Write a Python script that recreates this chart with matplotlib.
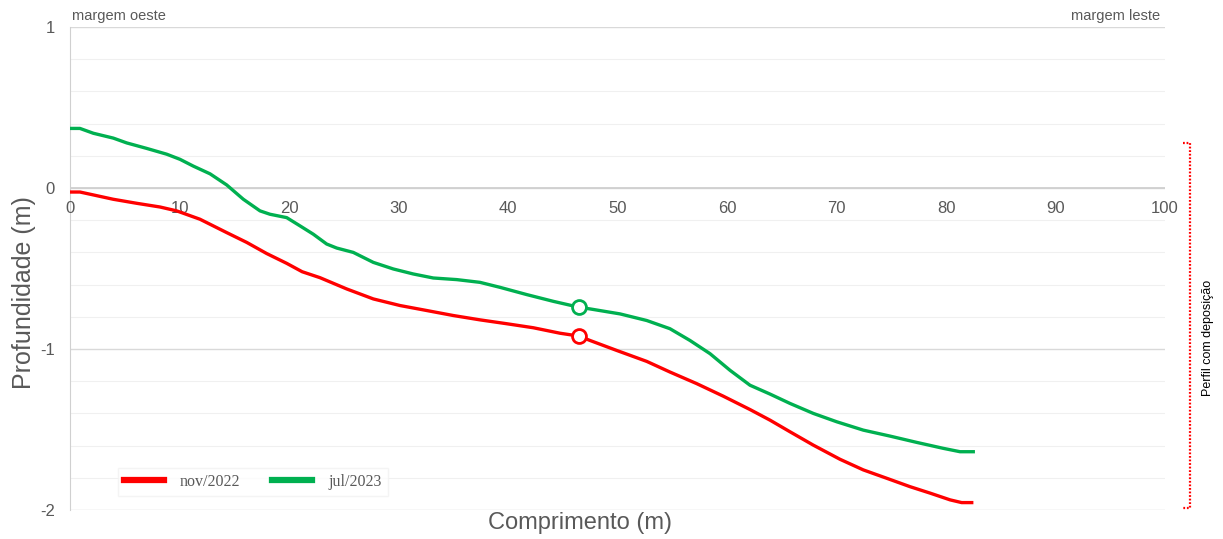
import matplotlib.pyplot as plt
from matplotlib.lines import Line2D
import numpy as np

# comprimento (m) e profundidade (m)
x_jul = [0, 0.91, 2.13, 3.95, 5.18, 7.0, 8.83, 10.05, 11.26, 12.79, 14.31, 15.83, 17.35,
         18.26, 19.79, 21.0, 22.22, 23.44, 24.36, 25.87, 27.7, 29.53, 31.35, 33.18, 35.32,
         37.44, 39.27, 41.71, 44.14, 46.51, 47.49, 50.23, 52.67, 54.79, 56.62, 58.45, 60.27,
         62.1, 63.93, 65.75, 67.88, 70.02, 72.45, 74.89, 77.32, 79.75, 81.28, 82.49]
y_jul = [0.37, 0.37, 0.34, 0.31, 0.28, 0.246, 0.21, 0.178, 0.136, 0.088, 0.019, -0.07, -0.142,
         -0.163, -0.184, -0.235, -0.287, -0.348, -0.373, -0.40, -0.462, -0.503, -0.534, -0.559,
         -0.569, -0.586, -0.617, -0.662, -0.704, -0.741, -0.751, -0.782, -0.823, -0.874, -0.947,
         -1.029, -1.132, -1.225, -1.28, -1.338, -1.40, -1.452, -1.504, -1.541, -1.58, -1.617,
         -1.638, -1.638]

x_nov = [0, 0.91, 2.13, 3.95, 6.09, 8.22, 9.74, 11.87, 14.31, 16.14, 17.96, 19.79, 21.2,
         22.83, 25.27, 27.7, 30.14, 32.58, 35.0, 37.44, 39.88, 42.31, 44.75, 46.51, 47.49,
         49.93, 52.67, 54.79, 57.23, 59.66, 62.1, 63.93, 65.75, 67.88, 70.32, 72.45, 74.59,
         76.71, 78.54, 80.37, 81.43, 82.35]
y_nov = [-0.025, -0.025, -0.043, -0.07, -0.095, -0.118, -0.142, -0.194, -0.277, -0.338, -0.407,
         -0.468, -0.52, -0.557, -0.627, -0.689, -0.73, -0.761, -0.792, -0.819, -0.843, -0.868,
         -0.902, -0.92, -0.947, -1.009, -1.077, -1.143, -1.215, -1.293, -1.376, -1.442, -1.514,
         -1.597, -1.685, -1.751, -1.803, -1.855, -1.895, -1.937, -1.954, -1.954]

marker_x = 46.51
x_ticks = [0, 10, 20, 30, 40, 50, 60, 70, 80, 90, 100]
y_ticks = [-2, -1, 0, 1]

RED = "#FF0000"
GREEN = "#00B050"
GREY = "#595959"

plt.rcParams["font.family"] = ["Liberation Sans", "DejaVu Sans"]

fig = plt.figure(figsize=(12.23, 5.39), dpi=100)
ax = fig.add_axes([70 / 1223, 29 / 539, 1095 / 1223, 483 / 539])
ax.set_xlim(0, 100)
ax.set_ylim(-2, 1)

# grade
for v in np.arange(-2, 1.01, 0.2):
    major = abs(v - round(v)) < 1e-6
    ax.axhline(v, color="#D9D9D9" if major else "#F0F0F0", lw=1.0 if major else 0.8, zorder=0)
ax.axhline(0, color="#D0D0D0", lw=1.3, zorder=1)

for s in ["top", "right", "bottom"]:
    ax.spines[s].set_visible(False)
ax.spines["left"].set_color("#D0D0D0")

ax.set_yticks(y_ticks)
ax.set_yticklabels([str(t) for t in y_ticks])
ax.tick_params(axis="y", length=0, pad=11, labelsize=12, labelcolor=GREY)

ax.set_xticks(x_ticks)
ax.set_xticklabels([])
ax.tick_params(axis="x", length=0)
for t in x_ticks:
    ax.text(t, -0.13, str(t), ha="center", va="center", fontsize=12, color=GREY)

ax.plot(x_nov, y_nov, color=RED, lw=2.4, zorder=3)
ax.plot(x_jul, y_jul, color=GREEN, lw=2.4, zorder=3)
ax.plot([marker_x], [np.interp(marker_x, x_nov, y_nov)], "o", ms=10, mfc="white",
        mec=RED, mew=2, zorder=4)
ax.plot([marker_x], [np.interp(marker_x, x_jul, y_jul)], "o", ms=10, mfc="white",
        mec=GREEN, mew=2, zorder=4)

handles = [Line2D([], [], color=RED, lw=4.5), Line2D([], [], color=GREEN, lw=4.5)]
leg = ax.legend(handles, ["nov/2022", "jul/2023"], loc="center", bbox_to_anchor=(0.167, 0.058),
                ncol=2, frameon=True, fancybox=False, handlelength=2.5, columnspacing=2.0,
                handletextpad=1.0, prop={"family": "Liberation Serif", "size": 11.5})
leg.get_frame().set_edgecolor("#F2F2F2")
for txt in leg.get_texts():
    txt.set_color(GREY)

fig.text(24 / 1223, 1 - 293 / 539, "Profundidade (m)", rotation=90, fontsize=18, color=GREY,
         ha="center", va="center")
fig.text(580 / 1223, 1 - 523 / 539, "Comprimento (m)", fontsize=17, color=GREY,
         ha="center", va="center")

fig.text(72 / 1223, 1 - 16 / 539, "margem oeste", fontsize=10.5, color=GREY, va="center")
fig.text(1160 / 1223, 1 - 16 / 539, "margem leste", fontsize=10.5, color=GREY, va="center",
         ha="right")

# colchete vermelho pontilhado
bx = [1183 / 1223, 1190 / 1223, 1190 / 1223, 1183 / 1223]
by = [1 - 143 / 539, 1 - 143 / 539, 1 - 508 / 539, 1 - 508 / 539]
fig.add_artist(Line2D(bx, by, color=RED, lw=1.6, ls=(0, (0.8, 0.8)), transform=fig.transFigure))
fig.text(1208 / 1223, 1 - 338 / 539, "Perfil com deposição", rotation=90, fontsize=9,
         color="black", ha="center", va="center")

fig.savefig("out.png", dpi=100)
